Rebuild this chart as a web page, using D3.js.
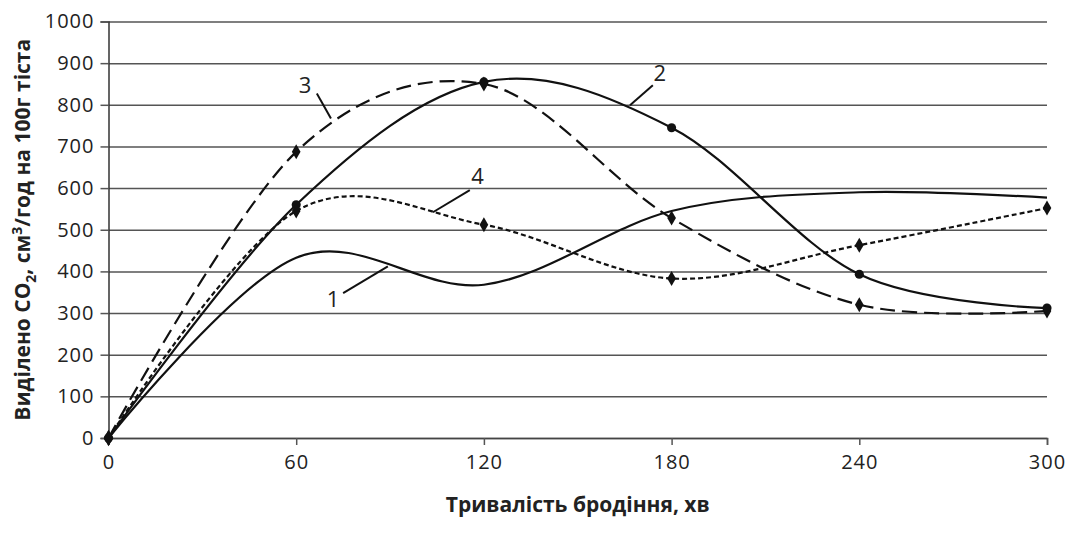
<html>
<head>
<script src="https://d3js.org/d3.v7.min.js"></script>
<style>
  body { margin: 0; background: #fff; }
  text { font-family: "Open Sans", sans-serif; fill: #222; }
  .grid line { stroke: #555; stroke-width: 1.5px; }
  .curve { fill: none; stroke: #111; stroke-width: 2.2px; }
</style>
</head>
<body>
<script>
// дані
var times = [0, 60, 120, 180, 240, 300];
var yTicks = [0, 100, 200, 300, 400, 500, 600, 700, 800, 900, 1000];
var series1 = [0, 433, 368, 545, 590, 577];
var series2 = [0, 560, 855, 745, 393, 312];
var series3 = [0, 687, 850, 528, 320, 305];
var series4 = [0, 545, 512, 383, 463, 552];
// підписи кривих: позиція тексту і кінці виносної лінії (в одиницях даних)
var labels = [
  {text: "1", x: 71.8, y: 336, x1: 75, y1: 348, x2: 89.3, y2: 412},
  {text: "2", x: 176.2, y: 878, x1: 174, y1: 847, x2: 166.7, y2: 799},
  {text: "3", x: 62.8, y: 851, x1: 66.6, y1: 827, x2: 71.1, y2: 767},
  {text: "4", x: 118, y: 631, x1: 115.5, y1: 595, x2: 103.7, y2: 542}
];

var margin = {top: 21.5, right: 27, bottom: 109, left: 108.5};
var W = 1074, H = 547;
var width = W - margin.left - margin.right;
var height = H - margin.top - margin.bottom;

var svg = d3.select("body").append("svg")
    .attr("width", W).attr("height", H)
    .append("g")
    .attr("transform", "translate(" + margin.left + "," + margin.top + ")");

var x = d3.scaleLinear().domain([0, 300]).range([0, width]);
var y = d3.scaleLinear().domain([0, 1000]).range([height, 0]);

// горизонтальна сітка + мітки осі y
svg.append("g").attr("class", "grid")
    .call(d3.axisLeft(y).tickValues(yTicks).tickSize(-width).tickFormat(""))
    .call(function(g){ g.select(".domain").remove(); });
svg.append("g").attr("class", "grid")
    .call(d3.axisLeft(y).tickValues(yTicks).tickSize(8).tickPadding(6).tickFormat(d3.format("d")))
    .call(function(g){
        g.select(".domain").attr("stroke", "#333").attr("stroke-width", 1.5);
        g.selectAll("text").style("font-size", "20px").style("letter-spacing", "1px").attr("fill", "#222");
    });

// вісь x
svg.append("g").attr("class", "grid")
    .attr("transform", "translate(0," + height + ")")
    .call(d3.axisBottom(x).tickValues(times).tickSize(7).tickSizeOuter(7).tickPadding(10))
    .call(function(g){
        g.select(".domain").attr("stroke", "#444").attr("stroke-width", 1.5);
        g.selectAll("text").style("font-size", "20px").style("letter-spacing", "1px").attr("fill", "#222");
    });

var line = d3.line()
    .x(function(d, i){ return x(times[i]); })
    .y(function(d){ return y(d); })
    .curve(d3.curveCardinal.tension(0));

var all = [
  {v: series1, dash: null, marker: null},
  {v: series2, dash: null, marker: "circle"},
  {v: series3, dash: "15,7", marker: "diamond"},
  {v: series4, dash: "5,3", marker: "diamond"}
];

all.forEach(function(s){
    svg.append("path").datum(s.v)
        .attr("class", "curve")
        .attr("d", line)
        .attr("stroke-dasharray", s.dash);
    if (s.marker) {
        var sym = d3.symbol()
            .type(s.marker === "circle" ? d3.symbolCircle : d3.symbolDiamond)
            .size(s.marker === "circle" ? 65 : 65);
        svg.selectAll(null).data(s.v).enter().append("path")
            .attr("d", sym)
            .attr("fill", "#111")
            .attr("transform", function(d, i){ return "translate(" + x(times[i]) + "," + y(d) + ")"; });
    }
});
// точка в нулі
svg.append("path").attr("d", d3.symbol().type(d3.symbolDiamond).size(80))
    .attr("fill", "#111")
    .attr("transform", "translate(" + x(times[0]) + "," + y(series1[0]) + ")");

// підписи кривих
labels.forEach(function(l){
    svg.append("line")
        .attr("x1", x(l.x1)).attr("y1", y(l.y1))
        .attr("x2", x(l.x2)).attr("y2", y(l.y2))
        .attr("stroke", "#111").attr("stroke-width", 2);
    svg.append("text")
        .attr("x", x(l.x)).attr("y", y(l.y))
        .attr("text-anchor", "middle")
        .attr("dominant-baseline", "central")
        .style("font-size", "22px")
        .text(l.text);
});

// назви осей
svg.append("text")
    .attr("x", width / 2).attr("y", height + 74)
    .attr("text-anchor", "middle")
    .style("font-size", "21px").style("font-weight", "bold")
    .text("Тривалість бродіння, хв");

var yt = svg.append("text")
    .attr("transform", "translate(" + (-79) + "," + (height / 2) + ") rotate(-90)")
    .attr("text-anchor", "middle")
    .style("font-size", "21px").style("font-weight", "bold");
yt.append("tspan").text("Виділено CO");
yt.append("tspan").attr("dy", 6).style("font-size", "14px").text("2");
yt.append("tspan").attr("dy", -6).text(", см");
yt.append("tspan").attr("dy", -8).style("font-size", "14px").text("3");
yt.append("tspan").attr("dy", 8).text("/год на 100г тіста");
</script>
</body>
</html>
